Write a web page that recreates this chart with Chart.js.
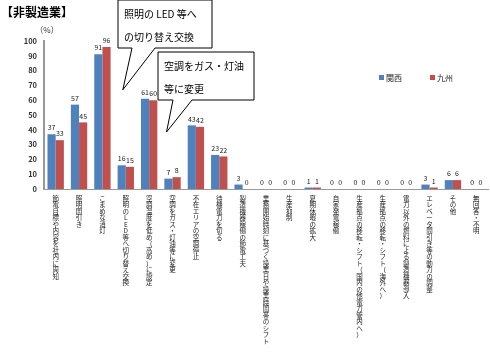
<!DOCTYPE html>
<html><head><meta charset="utf-8">
<script src="https://cdn.jsdelivr.net/npm/chart.js@4"></script>
<style>html,body{margin:0;padding:0;background:#fff}#wrap{width:490px;height:353px;position:relative}</style>
</head><body><div id="wrap"><canvas id="c" width="490" height="353"></canvas></div>
<script>
const categories = [
  "節電目標や内容を社内に周知","照明間引き","こまめな消灯","照明のLED等へ切り替え交換",
  "空調温度を低め（高め）に設定","空調をガス・灯油等に変更","不在エリアの空調停止","待機電力を切る",
  "製造機器稼働の節電工夫","業務開始時刻に基づく操業日や操業時間帯のシフト","生産抑制","夏期休暇の拡大",
  "自家発電稼働","生産拠点の移転・シフト（国内の他電力管内へ）","生産拠点の移転・シフト（海外へ）",
  "電力以外の燃料による製造機器導入","エレベータ間引き等の動力の調整","その他","無回答・不明"
];
const kansai = [37,57,91,16,61,7,43,23,3,0,0,1,0,0,0,0,3,6,0];
const kyushu = [33,45,96,15,60,8,42,22,0,0,0,1,0,0,0,0,1,6,0];
const seriesNames = ["関西","九州"];
const seriesColors = ["#4F81BD","#C0504D"];
const yTicks = [0,10,20,30,40,50,60,70,80,90,100];
const title = "【非製造業】";
const unit = "（%）";
const callouts = [
  {lines:["照明の LED 等へ","の切り替え交換"], cat:3, val:67},
  {lines:["空調をガス・灯油","等に変更"], cat:5, val:38.5}
];
const JP = '"Noto Sans CJK JP", sans-serif';

const extras = {
  id:'extras',
  afterDatasetsDraw(chart){
    const ctx = chart.ctx;
    ctx.save();
    ctx.font = '7px ' + JP;
    ctx.fillStyle = '#222';
    ctx.textAlign = 'center';
    ctx.textBaseline = 'bottom';
    chart.data.datasets.forEach((ds,di)=>{
      chart.getDatasetMeta(di).data.forEach((bar,i)=>{
        ctx.fillText(String(ds.data[i]), bar.x, bar.y - 3);
      });
    });
    ctx.textBaseline = 'middle';
    ctx.textAlign = 'center';
    ctx.font = '8px ' + JP;
    ctx.fillStyle = '#333';
    ctx.fillText(unit, 47, 30);
    ctx.textAlign = 'left';
    ctx.font = 'bold 12px ' + JP;
    ctx.fillStyle = '#000';
    ctx.fillText(title, 1, 12);
    ctx.font = '8px ' + JP;
    const lx = [379, 430];
    seriesNames.forEach((n,i)=>{
      ctx.fillStyle = seriesColors[i];
      ctx.fillRect(lx[i], 75, 5, 5);
      ctx.fillStyle = '#222';
      ctx.fillText(n, lx[i]+7, 78);
    });
    const xs = chart.scales.x, ys = chart.scales.y;
    const boxes = [
      {x:118,y:0,w:94,h:48,b1:132,b2:155,dx:-3},
      {x:158,y:52,w:96,h:48,b1:173,b2:192,dx:-6}
    ];
    callouts.forEach((c,i)=>{
      const b = boxes[i];
      const tx = xs.getPixelForValue(c.cat) + b.dx;
      const ty = ys.getPixelForValue(c.val);
      ctx.beginPath();
      ctx.moveTo(b.x, b.y); ctx.lineTo(b.x+b.w, b.y); ctx.lineTo(b.x+b.w, b.y+b.h);
      ctx.lineTo(b.b2, b.y+b.h); ctx.lineTo(tx, ty); ctx.lineTo(b.b1, b.y+b.h);
      ctx.lineTo(b.x, b.y+b.h); ctx.closePath();
      ctx.fillStyle = '#fff'; ctx.fill();
      ctx.strokeStyle = '#000'; ctx.lineWidth = 1; ctx.stroke();
      ctx.fillStyle = '#000';
      ctx.font = '10px ' + JP;
      ctx.textAlign = 'left';
      ctx.fillText(c.lines[0], b.x+6, b.y+14);
      ctx.fillText(c.lines[1], b.x+6, b.y+37);
    });
    ctx.restore();
  }
};

new Chart(document.getElementById('c'), {
  type:'bar',
  data:{
    labels: categories,
    datasets:[
      {label:seriesNames[0], data:kansai, backgroundColor:seriesColors[0]},
      {label:seriesNames[1], data:kyushu, backgroundColor:seriesColors[1]}
    ]
  },
  options:{
    responsive:false, animation:false,
    layout:{padding:{top:41,right:2,left:0,bottom:0}},
    datasets:{bar:{categoryPercentage:0.7, barPercentage:1.0}},
    plugins:{legend:{display:false}, tooltip:{enabled:false}},
    scales:{
      x:{
        grid:{display:false, drawTicks:false},
        border:{display:true, color:'#999', width:1},
        ticks:{
          autoSkip:false, maxRotation:0, minRotation:0, padding:6,
          color:'#222',
          font:{family:JP, size:6.5, lineHeight:1.0},
          callback:(v,i)=>Array.from(categories[i])
        },
        afterFit:(s)=>{s.height = 164;}
      },
      y:{
        min:0, max:100,
        afterBuildTicks:(s)=>{s.ticks = yTicks.map(v=>({value:v}));},
        grid:{display:false, drawTicks:false},
        border:{display:true, color:'#999', width:2},
        ticks:{color:'#333', padding:7, font:{family:JP, size:7.5, weight:'bold'}},
        afterFit:(s)=>{s.width = 44;}
      }
    }
  },
  plugins:[extras]
});
</script></body></html>
